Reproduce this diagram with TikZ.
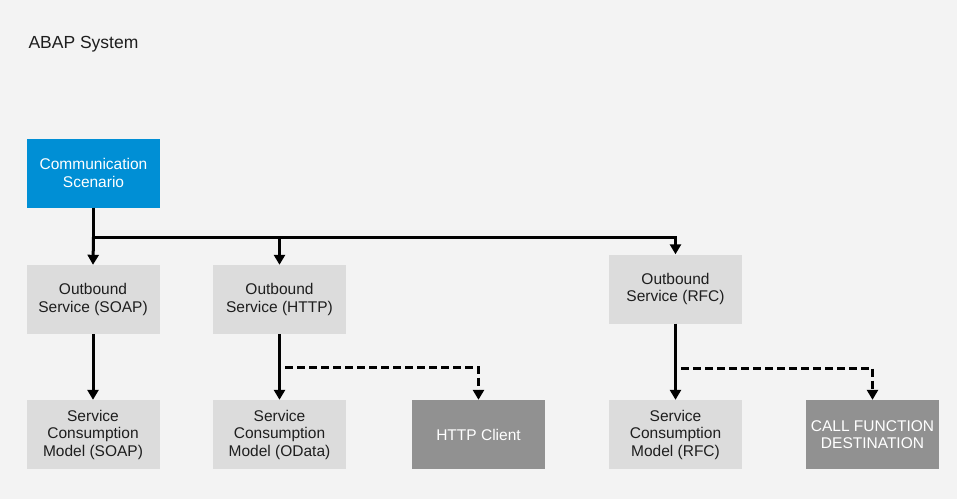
\documentclass[tikz,border=0pt]{standalone}
\usepackage{fontspec}
\setmainfont{Liberation Sans}
\usetikzlibrary{arrows.meta}
\definecolor{bg}{RGB}{243,243,243}
\definecolor{sapblue}{RGB}{0,143,213}
\definecolor{lightbox}{RGB}{220,220,220}
\definecolor{darkbox}{RGB}{145,145,145}
\definecolor{txt}{RGB}{30,30,30}
\tikzset{
  box/.style={rectangle, minimum width=133pt, minimum height=69pt, inner sep=0pt, align=center,
    font=\fontsize{15.5}{17.5}\selectfont},
  lbox/.style={box, fill=lightbox, text=txt},
  bbox/.style={box, fill=sapblue, text=white},
  dbox/.style={box, fill=darkbox, text=white},
  conn/.style={line width=3pt, draw=black},
  arr/.style={conn, -{Triangle[length=10pt,width=11pt]}},
  darr/.style={arr, dash pattern=on 8pt off 4pt, line width=3pt},
}
\begin{document}
\begin{tikzpicture}[x=1pt,y=-1pt]
\fill[bg] (0,0) rectangle (957,499);
\useasboundingbox (0,0) rectangle (957,499);
\node[anchor=west, text=txt, font=\fontsize{17.5}{20}\selectfont] (title) at (25,44) {ABAP System};
\node[bbox] (cs) at (93.5,173) {Communication\\Scenario};
\node[lbox] (osoap) at (93,299.5) {Outbound\\Service (SOAP)};
\node[lbox] (ohttp) at (279.5,299.5) {Outbound\\Service (HTTP)};
\node[lbox] (orfc) at (675.5,289) {Outbound\\Service (RFC)};
\node[lbox] (msoap) at (93,434.5) {Service\\Consumption\\Model (SOAP)};
\node[lbox] (modata) at (279.5,434.5) {Service\\Consumption\\Model (OData)};
\node[dbox] (hc) at (478.5,434.5) {HTTP Client};
\node[lbox] (mrfc) at (675.5,434.5) {Service\\Consumption\\Model (RFC)};
\node[dbox] (cfd) at (872.5,434.5) {CALL FUNCTION\\DESTINATION};
\coordinate (j1) at (93.5,237);
\coordinate (d1) at (285,367);
\coordinate (d2) at (681,368);
\draw[conn, line width=3.6pt] (cs.south) -- (j1);
\draw[arr] (j1) -| (orfc.north);
\draw[arr] (j1) -- (osoap.north);
\draw[arr] (ohttp.north |- j1) -- (ohttp.north);
\draw[arr] (osoap.south) -- (msoap.north);
\draw[arr] (ohttp.south) -- (modata.north);
\draw[arr] (orfc.south) -- (mrfc.north);
\draw[darr] (d1) -| (hc.north);
\draw[darr] (d2) -| (cfd.north);
\end{tikzpicture}
\end{document}
